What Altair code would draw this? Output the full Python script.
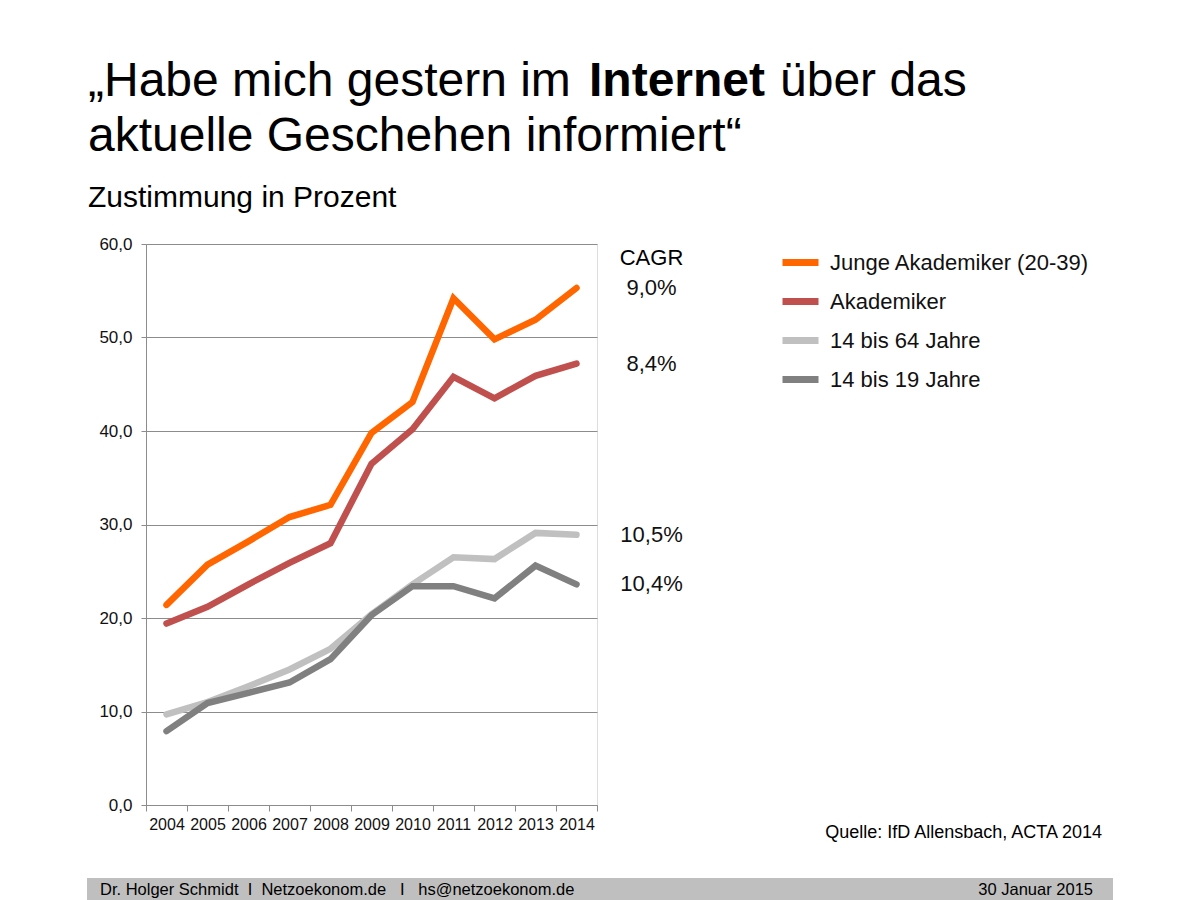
import altair as alt
import pandas as pd

# ---- data ----
years = [str(y) for y in range(2004, 2015)]
series_names = ["Junge Akademiker (20-39)", "Akademiker", "14 bis 64 Jahre", "14 bis 19 Jahre"]
junge = [21.4, 25.7, 28.2, 30.8, 32.1, 39.8, 43.1, 54.2, 49.8, 51.9, 55.3]
akad = [19.4, 21.2, 23.6, 25.9, 28.0, 36.5, 40.2, 45.8, 43.5, 45.9, 47.2]
bis64 = [9.7, 11.0, 12.7, 14.5, 16.7, 20.4, 23.6, 26.5, 26.3, 29.1, 28.9]
bis19 = [7.9, 10.9, 12.0, 13.1, 15.6, 20.3, 23.4, 23.4, 22.1, 25.6, 23.6]
colors = ["#FF6600", "#C0504D", "#C0C0C0", "#808080"]
cagr_labels = ["9,0%", "8,4%", "10,5%", "10,4%"]
y_ticks = [0, 10, 20, 30, 40, 50, 60]

title_regular_1 = "\u201eHabe mich gestern im"
title_bold = "Internet"
title_regular_2 = "\u00fcber das"
title_line_2 = "aktuelle Geschehen informiert\u201c"
subtitle = "Zustimmung in Prozent"
cagr_header = "CAGR"
source = "Quelle: IfD Allensbach, ACTA 2014"
footer_left = "Dr. Holger Schmidt\u00a0\u00a0I\u00a0\u00a0Netzoekonom.de\u00a0\u00a0\u00a0I\u00a0\u00a0\u00a0hs@netzoekonom.de"
footer_right = "30 Januar 2015"

FONT = "Liberation Sans"
W, H = 451, 561
PX, PY = 146, 244  # plot origin in page pixels

# long table; drawing order: light, dark, red, orange (dark above light)
draw_order = [(series_names[2], bis64), (series_names[3], bis19),
              (series_names[1], akad), (series_names[0], junge)]
rows = []
for name, vals in draw_order:
    for yr, v in zip(years, vals):
        rows.append({"year": yr, "series": name, "value": v})
df = pd.DataFrame(rows)

last_vals = [junge[-1], akad[-1], bis64[-1], bis19[-1]]
df_cagr = pd.DataFrame({"series": series_names, "value": last_vals, "label": cagr_labels})

x_enc = alt.X(
    "year:O",
    sort=years,
    scale=alt.Scale(type="band", paddingInner=0, paddingOuter=0),
    axis=alt.Axis(title=None, labelAngle=0, tickBand="extent", grid=False,
                  domainColor="#8c8c8c", tickColor="#8c8c8c", tickSize=6,
                  labelFontSize=16, labelPadding=5, labelColor="#111111", labelFont=FONT),
)
y_enc = alt.Y(
    "value:Q",
    scale=alt.Scale(domain=[0, 60], nice=False, zero=True),
    axis=alt.Axis(title=None, values=y_ticks, grid=True, gridColor="#8c8c8c",
                  domainColor="#8c8c8c", tickColor="#8c8c8c", tickSize=5,
                  labelFontSize=17, labelPadding=9, labelColor="#111111", labelFont=FONT,
                  labelExpr="replace(format(datum.value, '.1f'), '.', ',')"),
)

lines = alt.Chart(df).mark_line(strokeWidth=6.5, strokeCap="round", strokeJoin="miter").encode(
    x=x_enc,
    y=y_enc,
    color=alt.Color(
        "series:N",
        scale=alt.Scale(domain=series_names, range=colors),
        legend=alt.Legend(title=None, orient="none", legendX=633, legendY=-3,
                          symbolType="stroke", symbolSize=1296, symbolStrokeWidth=7,
                          labelFontSize=22, labelOffset=8, rowPadding=3, padding=0,
                          labelColor="#111111", labelFont=FONT, labelLimit=500),
    ),
)

cagr = alt.Chart(df_cagr).mark_text(fontSize=22, font=FONT, align="center",
                                    baseline="middle", color="#111111").encode(
    x=alt.value(505.5),
    y=alt.Y("value:Q"),
    text="label:N",
)


def label(txt, x, y, size, align="left", weight="normal", baseline="alphabetic"):
    return alt.Chart(pd.DataFrame({"t": [txt]})).mark_text(
        fontSize=size, font=FONT, align=align, baseline=baseline,
        fontWeight=weight, color="#000000"
    ).encode(x=alt.value(x - PX), y=alt.value(y - PY), text="t:N")


footer_bar = alt.Chart(pd.DataFrame({"a": [0]})).mark_rect(color="#BFBFBF").encode(
    x=alt.value(87 - PX), x2=alt.value(1113 - PX),
    y=alt.value(878 - PY), y2=alt.value(900 - PY),
)

texts = [
    label(title_regular_1, 88, 96, 48),
    label(title_bold, 589, 96, 48, weight="bold"),
    label(title_regular_2, 780, 96, 48),
    label(title_line_2, 88, 151, 48),
    label(subtitle, 88, 207, 30),
    label(cagr_header, 651.5, 265, 22, align="center"),
    label(source, 1102, 838, 18, align="right"),
    label(footer_left, 100, 895, 16.5),
    label(footer_right, 1093, 895, 16.5, align="right"),
]

chart = alt.layer(footer_bar, lines, cagr, *texts).properties(
    width=W, height=H,
    padding={"left": PX, "top": PY, "right": 1200 - PX - W, "bottom": 900 - PY - H},
    autosize=alt.AutoSizeParams(type="none"),
    background="white",
).configure_view(stroke=None).configure(font=FONT)

chart.save("out.html", embed_options={"renderer": "svg", "actions": False})
